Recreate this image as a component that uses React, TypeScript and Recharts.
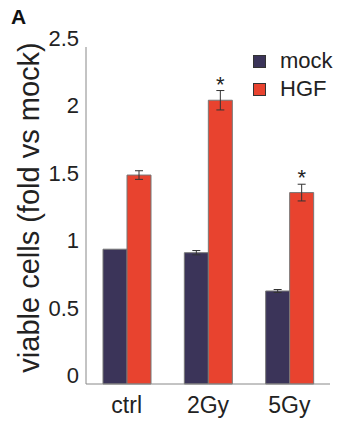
import React from 'react'
import { BarChart, Bar, XAxis, YAxis, ErrorBar, LabelList } from 'recharts'

const categories = ['ctrl', '2Gy', '5Gy']
const mockValues = [1.0, 0.974, 0.69]
const mockErrors = [0, 0.016, 0.011]
const hgfValues = [1.55, 2.105, 1.42]
const hgfErrors = [0.032, 0.072, 0.062]
const significance = ['', '*', '*']
const yTicks = [0, 0.5, 1, 1.5, 2, 2.5]
const seriesNames = ['mock', 'HGF']

const FONT = '"Liberation Sans", Arial, sans-serif'
const MOCK_COLOR = '#3b3459'
const HGF_COLOR = '#e8432f'

const data = categories.map((cat, i) => ({
  cat,
  mock: mockValues[i],
  mockErr: mockErrors[i],
  HGF: hgfValues[i],
  hgfErr: hgfErrors[i],
  sig: significance[i],
}))

const YTick = ({ x, y, payload }: any) => (
  <text x={x + 1} y={y} dy={-1} textAnchor="end" fontSize={22} fill="#222" fontFamily={FONT}>
    {payload.value}
  </text>
)

const XTick = ({ x, y, payload }: any) => (
  <text x={x} y={y} dy={21} textAnchor="middle" fontSize={23} fill="#222" fontFamily={FONT}>
    {payload.value}
  </text>
)

const Star = (props: any) => {
  const { x, y, width, height, value, index } = props
  if (!value) return null
  const ppu = height / hgfValues[index]
  const top = y - hgfErrors[index] * ppu
  return (
    <text x={x + width / 2} y={top + 1} textAnchor="middle" fontSize={22} fill="#222" fontFamily={FONT}>
      {value}
    </text>
  )
}

// legend drawn next to the chart so it doesn't eat plot space
const LegendBox = () => (
  <svg width={90} height={60} style={{ position: 'absolute', left: 250, top: 45 }}>
    <rect x={3.5} y={10.5} width={12} height={12} fill={MOCK_COLOR} stroke="#333" />
    <text x={30} y={23} fontSize={22} fill="#222" fontFamily={FONT}>{seriesNames[0]}</text>
    <rect x={3.5} y={38.5} width={12} height={12} fill={HGF_COLOR} stroke="#333" />
    <text x={30} y={51} fontSize={22} fill="#222" fontFamily={FONT}>{seriesNames[1]}</text>
  </svg>
)

const YTitle = ({ viewBox }: any) => {
  const cx = viewBox.x + 39
  const cy = viewBox.y + viewBox.height / 2 - 8
  return (
    <text
      x={cx}
      y={cy}
      transform={`rotate(-90, ${cx}, ${cy})`}
      textAnchor="middle"
      fontSize={29}
      fill="#222"
      fontFamily={FONT}
    >
      viable cells (fold vs mock)
    </text>
  )
}

export default function App() {
  return (
    <div style={{ position: 'absolute', left: 0, top: 0, width: 339, height: 426, background: '#fff' }}>
      <BarChart
        width={339}
        height={426}
        data={data}
        margin={{ top: 47, right: 9, left: 0, bottom: 0 }}
        barGap={0}
        barCategoryGap={17}
      >
        <XAxis
          dataKey="cat"
          height={42}
          tickLine={false}
          axisLine={{ stroke: '#888' }}
          tick={<XTick />}
          interval={0}
        />
        <YAxis
          width={86}
          domain={[0, 2.5]}
          ticks={yTicks}
          tickLine={false}
          axisLine={{ stroke: '#888' }}
          tick={<YTick />}
          label={<YTitle />}
          interval={0}
        />
        <Bar dataKey="mock" fill={MOCK_COLOR} stroke="#777" strokeWidth={1} isAnimationActive={false}>
          <ErrorBar dataKey="mockErr" width={4} stroke="#333" strokeWidth={1} />
        </Bar>
        <Bar dataKey="HGF" fill={HGF_COLOR} stroke="#777" strokeWidth={1} isAnimationActive={false}>
          <ErrorBar dataKey="hgfErr" width={4} stroke="#333" strokeWidth={1} />
          <LabelList dataKey="sig" content={<Star />} />
        </Bar>
      </BarChart>
      <LegendBox />
      <div
        style={{
          position: 'absolute',
          left: 11,
          top: 6,
          fontSize: 21,
          lineHeight: '21px',
          fontWeight: 'bold',
          fontFamily: FONT,
          color: '#111',
        }}
      >
        A
      </div>
    </div>
  )
}
